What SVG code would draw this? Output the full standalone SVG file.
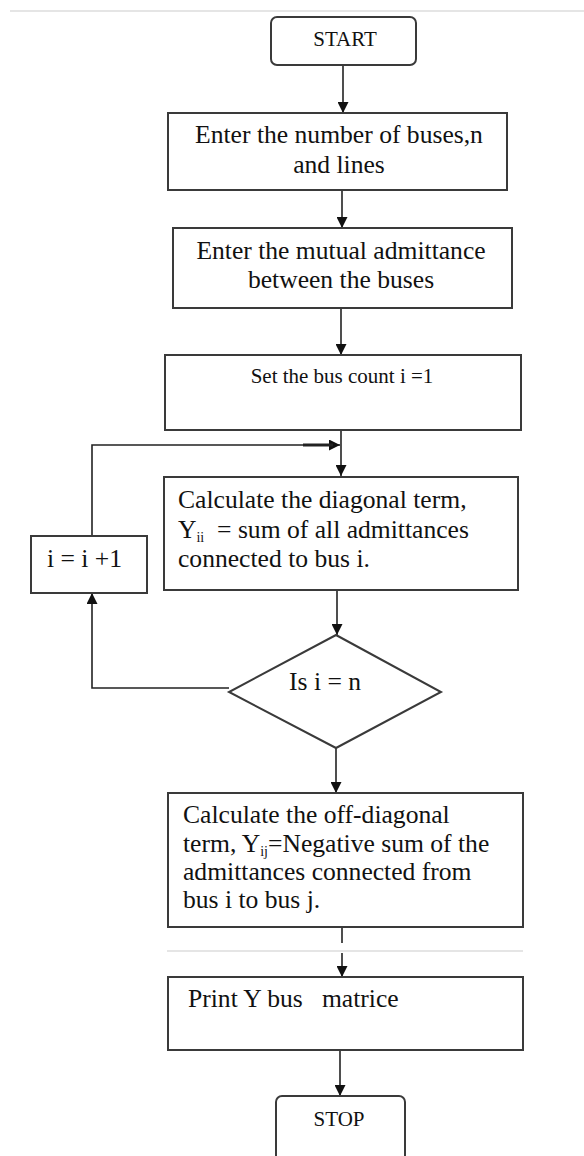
<svg xmlns="http://www.w3.org/2000/svg" width="584" height="1156" viewBox="0 0 584 1156">
<style>
.box{fill:#fff;stroke:#3a3a3a;stroke-width:2}
.t{font-family:"Liberation Serif","Times New Roman",serif;font-size:25.6px;fill:#111;white-space:pre}
.s{font-size:21px}
.sub{font-size:14px}
.c{text-anchor:middle}
.ln{fill:none;stroke:#222;stroke-width:1.6}
.sep{stroke:#dcdcdc;stroke-width:1.5}
</style>
<defs>
<marker id="ah" markerUnits="userSpaceOnUse" markerWidth="12" markerHeight="11" refX="11" refY="5.5" orient="auto">
<path d="M0,0 L11,5.5 L0,11 z" fill="#111"/>
</marker>
</defs>
<rect width="584" height="1156" fill="#fff"/>
<line class="sep" x1="10" y1="11" x2="584" y2="11"/>
<line class="sep" x1="167" y1="951" x2="523" y2="951"/>

<g id="connectors">
<line class="ln" x1="343" y1="65" x2="343" y2="113" marker-end="url(#ah)"/>
<line class="ln" x1="342" y1="190" x2="342" y2="228" marker-end="url(#ah)"/>
<line class="ln" x1="341" y1="308" x2="341" y2="355" marker-end="url(#ah)"/>
<line class="ln" x1="341" y1="430" x2="341" y2="476" marker-end="url(#ah)"/>
<polyline class="ln" points="92,536 92,445 340,445" marker-end="url(#ah)"/>
<line stroke="#222" stroke-width="3" x1="303" y1="445" x2="333" y2="445"/>
<line class="ln" x1="337" y1="590" x2="337" y2="635" marker-end="url(#ah)"/>
<polyline class="ln" points="229,688 92,688 92,593" marker-end="url(#ah)"/>
<line class="ln" x1="336" y1="748" x2="336" y2="793" marker-end="url(#ah)"/>
<line class="ln" x1="342" y1="924" x2="342" y2="943"/>
<line class="ln" x1="342" y1="953" x2="342" y2="977" marker-end="url(#ah)"/>
<line class="ln" x1="340" y1="1050" x2="340" y2="1096" marker-end="url(#ah)"/>
</g>

<g id="start">
<rect class="box" x="271" y="17" width="145" height="48" rx="6"/>
<text class="t s c" x="345" y="46">START</text>
</g>

<g id="enter-buses">
<rect class="box" x="168" y="113" width="339" height="77"/>
<text class="t c" x="339" y="143">Enter the number of buses,n</text>
<text class="t c" x="339" y="173">and lines</text>
</g>

<g id="enter-admittance">
<rect class="box" x="173" y="228" width="339" height="80"/>
<text class="t c" x="341" y="259">Enter the mutual admittance</text>
<text class="t c" x="341" y="288">between the buses</text>
</g>

<g id="set-count">
<rect class="box" x="165" y="355" width="356" height="75"/>
<text class="t s c" x="342" y="383">Set the bus count i =1</text>
</g>

<g id="diagonal">
<rect class="box" x="164" y="477" width="354" height="113"/>
<text class="t" x="178" y="508">Calculate the diagonal term,</text>
<text class="t" x="178" y="538">Y<tspan class="sub" dy="4">ii</tspan><tspan dy="-4">  = sum of all admittances</tspan></text>
<text class="t" x="178" y="567">connected to bus i.</text>
</g>

<g id="increment">
<rect class="box" x="31" y="536" width="116" height="57"/>
<text class="t" x="47" y="567">i = i +1</text>
</g>

<g id="decision">
<polygon class="box" points="336,635 441,692 336,748 229,692"/>
<text class="t" x="289" y="690">Is i = n</text>
</g>

<g id="off-diagonal">
<rect class="box" x="168" y="793" width="355" height="134"/>
<text class="t" x="183" y="823">Calculate the off-diagonal</text>
<text class="t" x="183" y="852">term, Y<tspan class="sub" dy="4">ij</tspan><tspan dy="-4">=Negative sum of the</tspan></text>
<text class="t" x="183" y="880">admittances connected from</text>
<text class="t" x="183" y="908">bus i to bus j.</text>
</g>

<g id="print">
<rect class="box" x="168" y="977" width="355" height="73"/>
<text class="t" x="188" y="1007">Print Y bus   matrice</text>
</g>

<g id="stop">
<rect class="box" x="276" y="1096" width="129" height="80" rx="6"/>
<text class="t s c" x="339" y="1126">STOP</text>
</g>
</svg>
